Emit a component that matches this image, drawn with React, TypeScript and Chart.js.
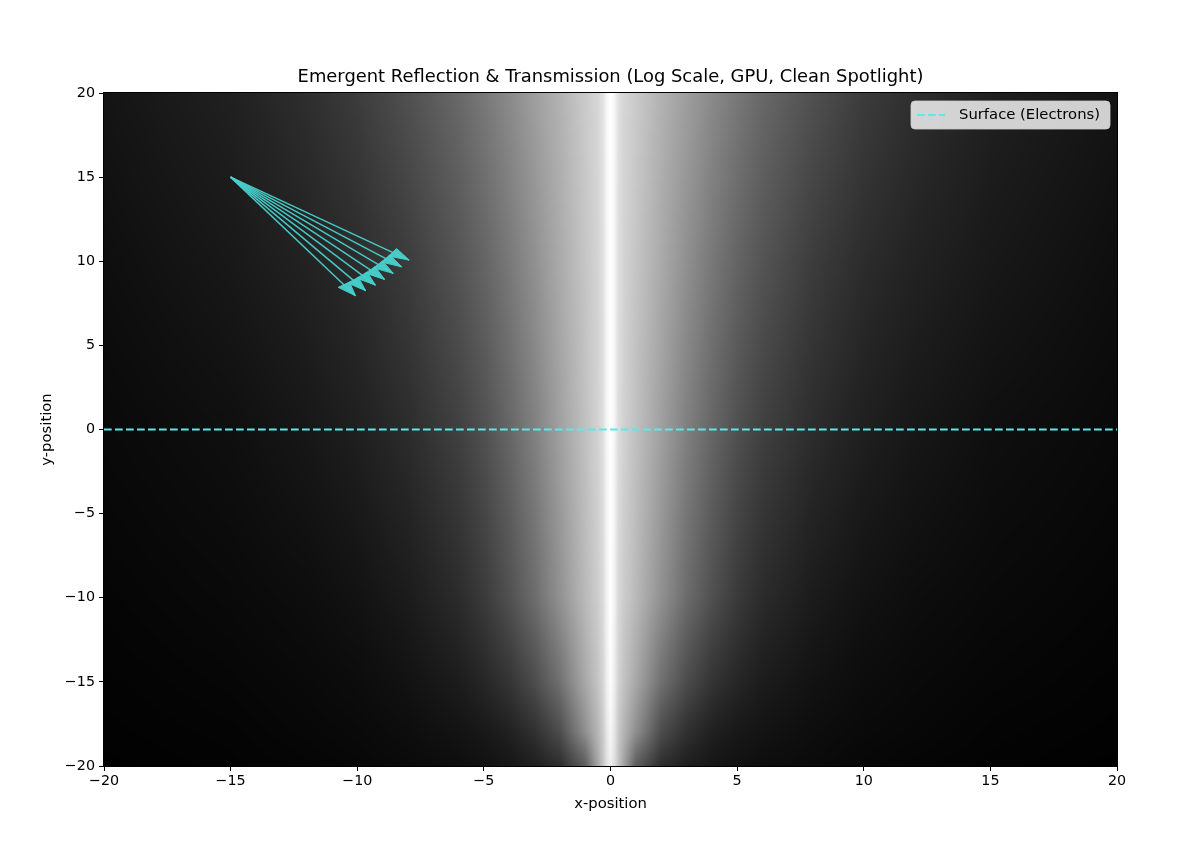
import React, { useEffect, useRef } from 'react';
import { Chart, registerables } from 'chart.js';

Chart.register(...registerables);

// ---------- data ----------
const titleText = 'Emergent Reflection & Transmission (Log Scale, GPU, Clean Spotlight)';
const xLabel = 'x-position';
const yLabel = 'y-position';
const legendLabel = 'Surface (Electrons)';

const axisMin = -20;
const axisMax = 20;
const tickStep = 5;

// Background intensity field (gray levels 0-255), sampled at |x| and at several y rows
const profileAbsX = [0, 0.15, 0.3, 0.5, 1, 2, 3, 4, 5, 6, 8, 10, 12, 15, 20];
const rowY = [20, 10, 0, -10, -15, -18, -20];
const grayAtY20 = [255, 246, 226, 214, 202, 178, 158, 138, 120, 104, 80, 60, 46, 32, 20];
const grayAtY10 = [255, 245, 224, 212, 197, 170, 144, 120, 100, 84, 60, 44, 34, 24, 14];
const grayAtY0 = [255, 245, 222, 210, 192, 160, 128, 102, 80, 64, 44, 31, 23, 15, 9];
const grayAtYm10 = [255, 242, 218, 205, 185, 145, 108, 80, 58, 43, 27, 18, 13, 9, 5];
const grayAtYm15 = [252, 238, 212, 196, 168, 112, 76, 52, 38, 28, 18, 12, 9, 6, 3];
const grayAtYm18 = [246, 230, 202, 182, 142, 76, 48, 32, 24, 19, 13, 9, 7, 4, 2];
const grayAtYm20 = [238, 224, 196, 165, 92, 45, 30, 22, 17, 14, 10, 7, 5, 3, 1];
const grayRows = [grayAtY20, grayAtY10, grayAtY0, grayAtYm10, grayAtYm15, grayAtYm18, grayAtYm20];

// Surface line
const surfaceX = [-20, 20];
const surfaceY = [0, 0];

// Incident ray fan
const arrowStartX = -15;
const arrowStartY = 15;
const arrowTipX = [-7.95, -8.25, -8.58, -8.92, -9.28, -9.67, -10.07];
const arrowTipY = [10.07, 9.67, 9.28, 8.92, 8.58, 8.25, 7.95];
const arrowHeadLength = 0.8;
const arrowHeadWidth = 0.55;

// ---------- styles ----------
const FONT = 'DejaVu Sans';
const arrowColor = 'rgba(72, 209, 204, 0.95)';
const surfaceColor = '#5ee8e8';

const fmt = (v: number) => (v < 0 ? '\u2212' + Math.abs(v) : String(v));

function lerp(a: number, b: number, t: number) {
  return a + (b - a) * t;
}

const heatmapPlugin = {
  id: 'heatmap',
  beforeDatasetsDraw(chart: any) {
    const { ctx, chartArea: a, scales } = chart;
    const xs = scales.x;
    const ys = scales.y;
    const w = Math.round(a.right - a.left);
    const h = Math.round(a.bottom - a.top);
    const off = document.createElement('canvas');
    off.width = w;
    off.height = h;
    const octx = off.getContext('2d')!;
    const img = octx.createImageData(w, h);
    const colK = new Int32Array(w);
    const colT = new Float32Array(w);
    for (let i = 0; i < w; i++) {
      const xv = Math.abs(xs.getValueForPixel(a.left + i + 0.5));
      let k = 0;
      while (k < profileAbsX.length - 2 && xv > profileAbsX[k + 1]) k++;
      const t = Math.min(1, Math.max(0, (xv - profileAbsX[k]) / (profileAbsX[k + 1] - profileAbsX[k])));
      colK[i] = k;
      colT[i] = t;
    }
    const row = new Float32Array(profileAbsX.length);
    for (let j = 0; j < h; j++) {
      const yv = ys.getValueForPixel(a.top + j + 0.5);
      let r = 0;
      while (r < rowY.length - 2 && yv < rowY[r + 1]) r++;
      const t = Math.min(1, Math.max(0, (rowY[r] - yv) / (rowY[r] - rowY[r + 1])));
      for (let k = 0; k < profileAbsX.length; k++) row[k] = lerp(grayRows[r][k], grayRows[r + 1][k], t);
      for (let i = 0; i < w; i++) {
        const g = lerp(row[colK[i]], row[colK[i] + 1], colT[i]);
        const p = (j * w + i) * 4;
        img.data[p] = g;
        img.data[p + 1] = g;
        img.data[p + 2] = g;
        img.data[p + 3] = 255;
      }
    }
    octx.putImageData(img, 0, 0);
    ctx.save();
    ctx.drawImage(off, a.left, a.top);
    ctx.restore();
  },
};

const overlayPlugin = {
  id: 'overlay',
  afterDatasetsDraw(chart: any) {
    const { ctx, scales } = chart;
    const xs = scales.x;
    const ys = scales.y;
    ctx.save();
    ctx.fillStyle = arrowColor;
    ctx.strokeStyle = arrowColor;
    ctx.lineWidth = 1;
    for (let i = 0; i < arrowTipX.length; i++) {
      const dx = arrowTipX[i] - arrowStartX;
      const dy = arrowTipY[i] - arrowStartY;
      const len = Math.hypot(dx, dy);
      const ux = dx / len;
      const uy = dy / len;
      const bx = arrowTipX[i] - ux * arrowHeadLength;
      const by = arrowTipY[i] - uy * arrowHeadLength;
      const px = (-uy * arrowHeadWidth) / 2;
      const py = (ux * arrowHeadWidth) / 2;
      ctx.beginPath();
      ctx.moveTo(xs.getPixelForValue(arrowTipX[i]), ys.getPixelForValue(arrowTipY[i]));
      ctx.lineTo(xs.getPixelForValue(bx + px), ys.getPixelForValue(by + py));
      ctx.lineTo(xs.getPixelForValue(bx - px), ys.getPixelForValue(by - py));
      ctx.closePath();
      ctx.fill();
      ctx.stroke();
    }
    ctx.restore();
  },
  afterDraw(chart: any) {
    const { ctx, chartArea: a } = chart;
    ctx.save();
    // frame
    ctx.strokeStyle = '#000';
    ctx.lineWidth = 1;
    ctx.strokeRect(Math.round(a.left) - 0.5, Math.round(a.top) - 0.5, Math.round(a.right - a.left) + 1, Math.round(a.bottom - a.top) + 1);
    // title
    ctx.fillStyle = '#000';
    ctx.font = `17.9px "${FONT}"`;
    ctx.textAlign = 'center';
    ctx.textBaseline = 'middle';
    ctx.fillText(titleText, (a.left + a.right) / 2, 77);
    // legend
    const bx = a.right - 206;
    const by = a.top + 8;
    const bw = 199;
    const bh = 28;
    const r = 4;
    ctx.beginPath();
    ctx.moveTo(bx + r, by);
    ctx.lineTo(bx + bw - r, by);
    ctx.quadraticCurveTo(bx + bw, by, bx + bw, by + r);
    ctx.lineTo(bx + bw, by + bh - r);
    ctx.quadraticCurveTo(bx + bw, by + bh, bx + bw - r, by + bh);
    ctx.lineTo(bx + r, by + bh);
    ctx.quadraticCurveTo(bx, by + bh, bx, by + bh - r);
    ctx.lineTo(bx, by + r);
    ctx.quadraticCurveTo(bx, by, bx + r, by);
    ctx.closePath();
    ctx.fillStyle = 'rgba(255,255,255,0.8)';
    ctx.fill();
    ctx.strokeStyle = 'rgba(204,204,204,0.8)';
    ctx.stroke();
    ctx.beginPath();
    ctx.setLineDash([7.7, 3.3]);
    ctx.strokeStyle = surfaceColor;
    ctx.lineWidth = 2;
    ctx.moveTo(bx + 6, by + 14);
    ctx.lineTo(bx + 34, by + 14);
    ctx.stroke();
    ctx.setLineDash([]);
    ctx.fillStyle = '#000';
    ctx.font = `14.8px "${FONT}"`;
    ctx.textBaseline = 'middle';
    ctx.textAlign = 'left';
    ctx.fillText(legendLabel, bx + 48, by + 14.5);
    ctx.restore();
  },
};

export default function App() {
  const ref = useRef<HTMLCanvasElement | null>(null);

  useEffect(() => {
    if (!ref.current) return;
    const arrowSets = arrowTipX.map((tx, i) => ({
      label: 'ray' + i,
      data: [
        { x: arrowStartX, y: arrowStartY },
        { x: tx, y: arrowTipY[i] },
      ],
      showLine: true,
      borderColor: arrowColor,
      borderWidth: 1.5,
      pointRadius: 0,
      order: 2,
    }));
    const chart = new Chart(ref.current, {
      type: 'scatter',
      data: {
        datasets: [
          ...arrowSets,
          {
            label: legendLabel,
            data: surfaceX.map((x, i) => ({ x, y: surfaceY[i] })),
            showLine: true,
            borderColor: surfaceColor,
            borderWidth: 2,
            borderDash: [7.7, 3.3],
            pointRadius: 0,
            order: 1,
          },
        ],
      },
      options: {
        animation: false,
        responsive: false,
        maintainAspectRatio: false,
        layout: { padding: { left: 0, right: 75, top: 93, bottom: 0 } },
        plugins: {
          legend: { display: false },
          tooltip: { enabled: false },
          title: { display: false },
        },
        scales: {
          x: {
            type: 'linear',
            min: axisMin,
            max: axisMax,
            afterFit: (s: any) => {
              s.height = 82;
            },
            grid: { drawOnChartArea: false, drawTicks: true, tickLength: 5, tickColor: '#000' },
            border: { display: true, color: '#000' },
            ticks: {
              stepSize: tickStep,
              color: '#000',
              padding: 2,
              maxRotation: 0,
              font: { family: FONT, size: 14.3 },
              callback: (v: any) => fmt(Number(v)),
            },
            title: {
              display: true,
              text: xLabel,
              color: '#000',
              font: { family: FONT, size: 14.8 },
              padding: { top: 0, bottom: 35.3 },
            },
          },
          y: {
            type: 'linear',
            min: axisMin,
            max: axisMax,
            afterFit: (s: any) => {
              s.width = 104;
            },
            grid: { drawOnChartArea: false, drawTicks: true, tickLength: 5, tickColor: '#000' },
            border: { display: true, color: '#000' },
            ticks: {
              stepSize: tickStep,
              color: '#000',
              padding: 4,
              font: { family: FONT, size: 14.3 },
              callback: (v: any) => fmt(Number(v)),
            },
            title: {
              display: true,
              text: yLabel,
              color: '#000',
              font: { family: FONT, size: 14.8 },
              padding: { top: 38.2, bottom: 0 },
            },
          },
        },
      } as any,
      plugins: [heatmapPlugin, overlayPlugin],
    });
    return () => chart.destroy();
  }, []);

  return (
    <div style={{ position: 'absolute', left: 0, top: 0, width: 1192, height: 848, background: '#fff' }}>
      <canvas ref={ref} width={1192} height={848} style={{ width: 1192, height: 848, display: 'block' }} />
    </div>
  );
}
